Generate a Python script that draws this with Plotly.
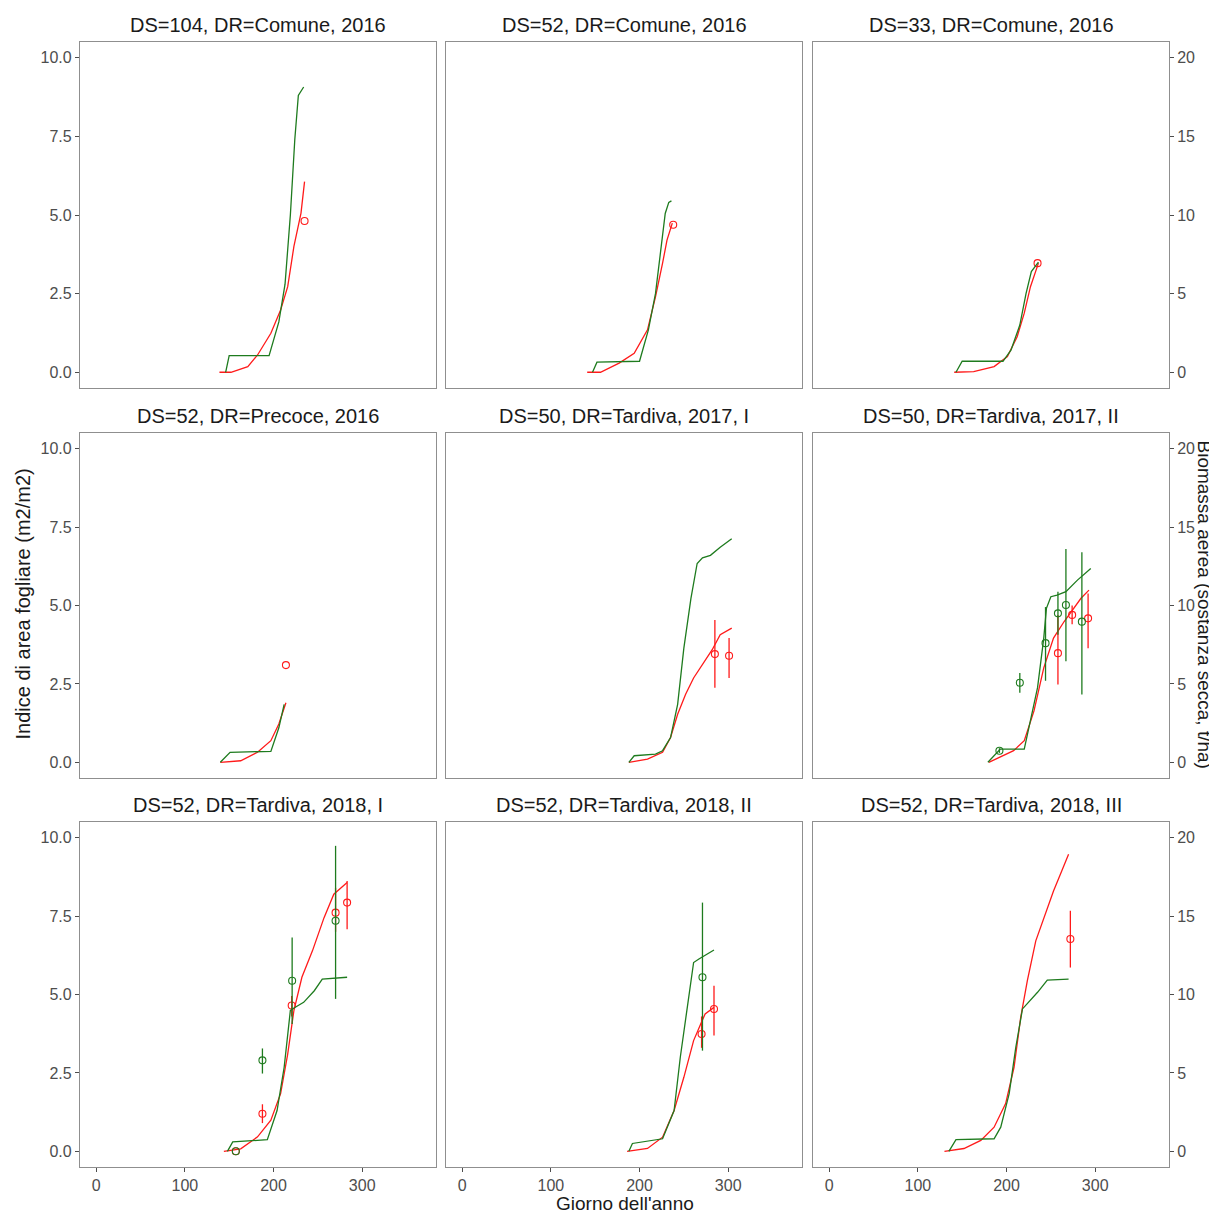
import plotly.graph_objects as go
from plotly.subplots import make_subplots

TITLES = [
    "DS=104, DR=Comune, 2016", "DS=52, DR=Comune, 2016", "DS=33, DR=Comune, 2016",
    "DS=52, DR=Precoce, 2016", "DS=50, DR=Tardiva, 2017, I", "DS=50, DR=Tardiva, 2017, II",
    "DS=52, DR=Tardiva, 2018, I", "DS=52, DR=Tardiva, 2018, II", "DS=52, DR=Tardiva, 2018, III",
]

X_TICKS = [0, 100, 200, 300]
LAI_TICKS = [0, 2.5, 5, 7.5, 10]
BIO_TICKS = [0, 5, 10, 15, 20]

# ---- simulated LAI (m2/m2), red ----
P1_LAI_DAY = [139, 152, 171, 182, 197, 208, 216, 223, 231, 235]
P1_LAI = [0, 0, 0.18, 0.55, 1.24, 1.98, 2.72, 4.0, 5.06, 6.06]
P2_LAI_DAY = [141, 156, 177, 194, 209, 218, 226, 231, 237]
P2_LAI = [0, 0, 0.29, 0.6, 1.35, 2.4, 3.47, 4.2, 4.74]
P3_LAI_DAY = [141, 163, 186, 201, 212, 220, 227, 236]
P3_LAI = [0, 0.02, 0.18, 0.5, 1.13, 1.88, 2.72, 3.47]
P4_LAI_DAY = [140, 163, 182, 197, 206, 214]
P4_LAI = [0, 0.05, 0.32, 0.69, 1.22, 1.9]
P5_LAI_DAY = [188, 209, 226, 235, 243, 252, 261, 272, 282, 291, 304]
P5_LAI = [0, 0.1, 0.32, 0.79, 1.53, 2.17, 2.69, 3.17, 3.59, 4.07, 4.28]
P6_LAI_DAY = [180, 193, 208, 220, 231, 242, 253, 265, 273, 284, 293]
P6_LAI = [0, 0.16, 0.37, 0.69, 1.64, 3.01, 3.96, 4.49, 4.8, 5.23, 5.49]
P7_LAI_DAY = [144, 163, 182, 197, 208, 216, 223, 232, 244, 257, 268, 276, 283]
P7_LAI = [0, 0.08, 0.46, 0.99, 1.84, 3.1, 4.49, 5.55, 6.4, 7.45, 8.2, 8.41, 8.57]
P8_LAI_DAY = [186, 209, 226, 239, 250, 261, 269, 274, 284]
P8_LAI = [0, 0.09, 0.45, 1.3, 2.36, 3.53, 4.06, 4.38, 4.59]
P9_LAI_DAY = [130, 152, 171, 186, 199, 208.5, 216, 223.5, 233, 242, 253, 261, 270]
P9_LAI = [0, 0.09, 0.35, 0.77, 1.52, 2.68, 4.27, 5.44, 6.71, 7.45, 8.3, 8.85, 9.47]

# ---- simulated biomass (t/ha), green ----
P1_BIO_DAY = [146, 150, 195, 206, 213, 219, 224, 228, 234]
P1_BIO = [0, 1.06, 1.06, 3.2, 5.6, 10.0, 14.8, 17.6, 18.14]
P2_BIO_DAY = [147, 152, 200, 210, 218, 224, 229, 233, 236]
P2_BIO = [0, 0.64, 0.7, 2.7, 5.0, 7.8, 10.1, 10.8, 10.9]
P3_BIO_DAY = [143, 150, 196, 205, 215, 222, 228, 233, 236]
P3_BIO = [0, 0.7, 0.7, 1.4, 3.0, 5.0, 6.4, 6.8, 7.0]
P4_BIO_DAY = [140, 151, 197, 206, 212]
P4_BIO = [0, 0.64, 0.7, 2.2, 3.7]
P5_BIO_DAY = [188, 194, 218, 226, 235, 243, 250, 258, 265, 271, 280, 291, 304]
P5_BIO = [0, 0.42, 0.52, 0.74, 1.58, 3.7, 7.28, 10.46, 12.68, 13.04, 13.2, 13.72, 14.26]
P6_BIO_DAY = [179, 189, 193, 220, 227, 235, 242, 245, 250, 257, 267, 280, 295]
P6_BIO = [0, 0.64, 0.84, 0.84, 2.64, 4.76, 7.92, 9.82, 10.56, 10.66, 10.88, 11.62, 12.36]
P7_BIO_DAY = [148, 154, 193, 204, 212, 219, 225, 234, 246, 255, 283]
P7_BIO = [0, 0.6, 0.74, 2.6, 5.36, 8.98, 9.2, 9.5, 10.24, 10.98, 11.1]
P8_BIO_DAY = [188, 192, 226, 239, 246, 254, 261, 267, 284]
P8_BIO = [0, 0.5, 0.8, 2.6, 6.0, 9.4, 12.04, 12.26, 12.84]
P9_BIO_DAY = [135, 143, 186, 193.5, 203, 210.5, 218, 225, 235, 246, 270]
P9_BIO = [0, 0.74, 0.8, 1.54, 3.68, 6.64, 9.08, 9.5, 10.14, 10.92, 10.98]

# ---- observed LAI: day, mean, low, high ----
P1_OLAI_DAY = [235]; P1_OLAI = [4.81]; P1_OLAI_LO = [4.81]; P1_OLAI_HI = [4.81]
P2_OLAI_DAY = [238]; P2_OLAI = [4.69]; P2_OLAI_LO = [4.69]; P2_OLAI_HI = [4.69]
P3_OLAI_DAY = [235]; P3_OLAI = [3.47]; P3_OLAI_LO = [3.47]; P3_OLAI_HI = [3.47]
P4_OLAI_DAY = [214]; P4_OLAI = [3.1]; P4_OLAI_LO = [3.1]; P4_OLAI_HI = [3.1]
P5_OLAI_DAY = [285, 301]; P5_OLAI = [3.45, 3.4]; P5_OLAI_LO = [2.38, 2.69]; P5_OLAI_HI = [4.54, 3.96]
P6_OLAI_DAY = [258, 274, 292]; P6_OLAI = [3.48, 4.7, 4.59]; P6_OLAI_LO = [2.48, 4.4, 3.64]; P6_OLAI_HI = [4.7, 5.0, 5.38]
P7_OLAI_DAY = [157.5, 187.5, 220.5, 270, 283]; P7_OLAI = [0, 1.2, 4.65, 7.61, 7.93]
P7_OLAI_LO = [0, 0.9, 4.3, 7.0, 7.08]; P7_OLAI_HI = [0, 1.5, 4.95, 8.4, 8.62]
P8_OLAI_DAY = [270, 284]; P8_OLAI = [3.74, 4.54]; P8_OLAI_LO = [3.3, 3.69]; P8_OLAI_HI = [4.3, 5.28]
P9_OLAI_DAY = [272]; P9_OLAI = [6.77]; P9_OLAI_LO = [5.86]; P9_OLAI_HI = [7.67]

# ---- observed biomass (t/ha): day, mean, low, high ----
P6_OBIO_DAY = [192, 215, 244, 258, 267, 285]
P6_OBIO = [0.74, 5.07, 7.6, 9.5, 10.03, 8.97]
P6_OBIO_LO = [0.6, 4.43, 5.2, 8.13, 6.44, 4.33]
P6_OBIO_HI = [0.9, 5.7, 9.9, 10.87, 13.6, 13.4]
P7_OBIO_DAY = [157.5, 187.5, 221, 270]
P7_OBIO = [0, 5.8, 10.88, 14.7]
P7_OBIO_LO = [0, 4.96, 8.12, 9.72]
P7_OBIO_HI = [0, 6.56, 13.64, 19.48]
P8_OBIO_DAY = [271]; P8_OBIO = [11.1]; P8_OBIO_LO = [6.42]; P8_OBIO_HI = [15.86]

RED = "#ff1a1a"
GREEN = "#1e7b1e"
FRAME = "#8f8f8f"
TXT = "#4d4d4d"
FONT = "Liberation Sans, Arial, sans-serif"

sim_lai = [(P1_LAI_DAY, P1_LAI), (P2_LAI_DAY, P2_LAI), (P3_LAI_DAY, P3_LAI),
           (P4_LAI_DAY, P4_LAI), (P5_LAI_DAY, P5_LAI), (P6_LAI_DAY, P6_LAI),
           (P7_LAI_DAY, P7_LAI), (P8_LAI_DAY, P8_LAI), (P9_LAI_DAY, P9_LAI)]
sim_bio = [(P1_BIO_DAY, P1_BIO), (P2_BIO_DAY, P2_BIO), (P3_BIO_DAY, P3_BIO),
           (P4_BIO_DAY, P4_BIO), (P5_BIO_DAY, P5_BIO), (P6_BIO_DAY, P6_BIO),
           (P7_BIO_DAY, P7_BIO), (P8_BIO_DAY, P8_BIO), (P9_BIO_DAY, P9_BIO)]
obs_lai = [(P1_OLAI_DAY, P1_OLAI, P1_OLAI_LO, P1_OLAI_HI), (P2_OLAI_DAY, P2_OLAI, P2_OLAI_LO, P2_OLAI_HI),
           (P3_OLAI_DAY, P3_OLAI, P3_OLAI_LO, P3_OLAI_HI), (P4_OLAI_DAY, P4_OLAI, P4_OLAI_LO, P4_OLAI_HI),
           (P5_OLAI_DAY, P5_OLAI, P5_OLAI_LO, P5_OLAI_HI), (P6_OLAI_DAY, P6_OLAI, P6_OLAI_LO, P6_OLAI_HI),
           (P7_OLAI_DAY, P7_OLAI, P7_OLAI_LO, P7_OLAI_HI), (P8_OLAI_DAY, P8_OLAI, P8_OLAI_LO, P8_OLAI_HI),
           (P9_OLAI_DAY, P9_OLAI, P9_OLAI_LO, P9_OLAI_HI)]
obs_bio = [None, None, None, None, None,
           (P6_OBIO_DAY, P6_OBIO, P6_OBIO_LO, P6_OBIO_HI),
           (P7_OBIO_DAY, P7_OBIO, P7_OBIO_LO, P7_OBIO_HI),
           (P8_OBIO_DAY, P8_OBIO, P8_OBIO_LO, P8_OBIO_HI), None]

# the page puts the figure 8 px in from the top-left corner
OFF = 8
W, H = 1217 - OFF, 1214 - OFF
COLS_PX = [(80, 436), (446, 802), (813, 1169)]
ROWS_PX = [(42, 388), (433, 778), (822, 1167)]
ML, MT = 80 - OFF, 42 - OFF
MR, MB = W - (1169 - OFF), H - (1167 - OFF)
PW, PH = W - ML - MR, H - MT - MB

fig = make_subplots(rows=3, cols=3, specs=[[{"secondary_y": True}] * 3] * 3)


def obs_trace(o, color):
    d, v, lo, hi = o
    return go.Scatter(
        x=d, y=v, mode="markers",
        marker=dict(symbol="circle-open", size=7, color=color, line=dict(width=1.1, color=color)),
        error_y=dict(type="data", symmetric=False,
                     array=[h - m for h, m in zip(hi, v)],
                     arrayminus=[m - l for m, l in zip(v, lo)],
                     color=color, thickness=1.3, width=0),
        showlegend=False, hoverinfo="skip")


TICKFONT = dict(size=16, color=TXT, family=FONT)
for i in range(9):
    r, c = i // 3 + 1, i % 3 + 1
    bd, bv = sim_bio[i]
    fig.add_trace(go.Scatter(x=bd, y=bv, mode="lines", line=dict(color=GREEN, width=1.3),
                             showlegend=False), row=r, col=c, secondary_y=True)
    ld, lv = sim_lai[i]
    fig.add_trace(go.Scatter(x=ld, y=lv, mode="lines", line=dict(color=RED, width=1.3),
                             showlegend=False), row=r, col=c, secondary_y=False)
    if obs_bio[i] is not None:
        fig.add_trace(obs_trace(obs_bio[i], GREEN), row=r, col=c, secondary_y=True)
    fig.add_trace(obs_trace(obs_lai[i], RED), row=r, col=c, secondary_y=False)

    x0, x1 = COLS_PX[c - 1]
    y0, y1 = ROWS_PX[r - 1]
    x0, x1, y0, y1 = x0 - OFF, x1 - OFF, y0 - OFF, y1 - OFF
    xdom = [(x0 - ML) / PW, (x1 - ML) / PW]
    ydom = [(MT + PH - y1) / PH, (MT + PH - y0) / PH]
    fig.update_xaxes(domain=xdom, range=[-18.25, 383.25], tickvals=X_TICKS,
                     showticklabels=(r == 3), ticks="outside" if r == 3 else "",
                     ticklen=4, tickcolor=TXT, showline=True, mirror=True,
                     linecolor=FRAME, linewidth=1.2, showgrid=False, zeroline=False,
                     tickfont=TICKFONT, row=r, col=c)
    fig.update_yaxes(domain=ydom, range=[-0.5, 10.5], tickvals=LAI_TICKS, tickformat=".1f",
                     showticklabels=(c == 1), ticks="outside" if c == 1 else "",
                     ticklen=4, tickcolor=TXT, showline=True, mirror=True,
                     linecolor=FRAME, linewidth=1.2, showgrid=False, zeroline=False,
                     tickfont=TICKFONT, row=r, col=c, secondary_y=False)
    fig.update_yaxes(range=[-1, 21], tickvals=BIO_TICKS,
                     showticklabels=(c == 3), ticks="outside" if c == 3 else "",
                     ticklen=4, tickcolor=TXT, showline=False, showgrid=False, zeroline=False,
                     tickfont=TICKFONT, row=r, col=c, secondary_y=True)
    fig.add_annotation(text=TITLES[i], xref="paper", yref="paper",
                       x=(xdom[0] + xdom[1]) / 2, y=ydom[1], yshift=17,
                       xanchor="center", yanchor="middle", showarrow=False,
                       font=dict(size=20, color="#1a1a1a", family=FONT))

fig.add_annotation(text="Indice di area fogliare (m2/m2)", xref="paper", yref="paper",
                   x=0, y=0.5, xshift=-58, textangle=-90, showarrow=False,
                   xanchor="center", yanchor="middle",
                   font=dict(size=20, color="#1a1a1a", family=FONT))
fig.add_annotation(text="Biomassa aerea (sostanza secca, t/ha)", xref="paper", yref="paper",
                   x=1, y=0.5, xshift=35, textangle=90, showarrow=False,
                   xanchor="center", yanchor="middle",
                   font=dict(size=19, color="#1a1a1a", family=FONT))
fig.add_annotation(text="Giorno dell'anno", xref="paper", yref="paper",
                   x=0.5, y=0, yshift=-36, showarrow=False,
                   xanchor="center", yanchor="middle",
                   font=dict(size=19, color="#1a1a1a", family=FONT))

fig.update_layout(width=W, height=H, margin=dict(l=ML, r=MR, t=MT, b=MB),
                  paper_bgcolor="white", plot_bgcolor="white", showlegend=False,
                  font=dict(family=FONT))

fig.write_html("out.html")
